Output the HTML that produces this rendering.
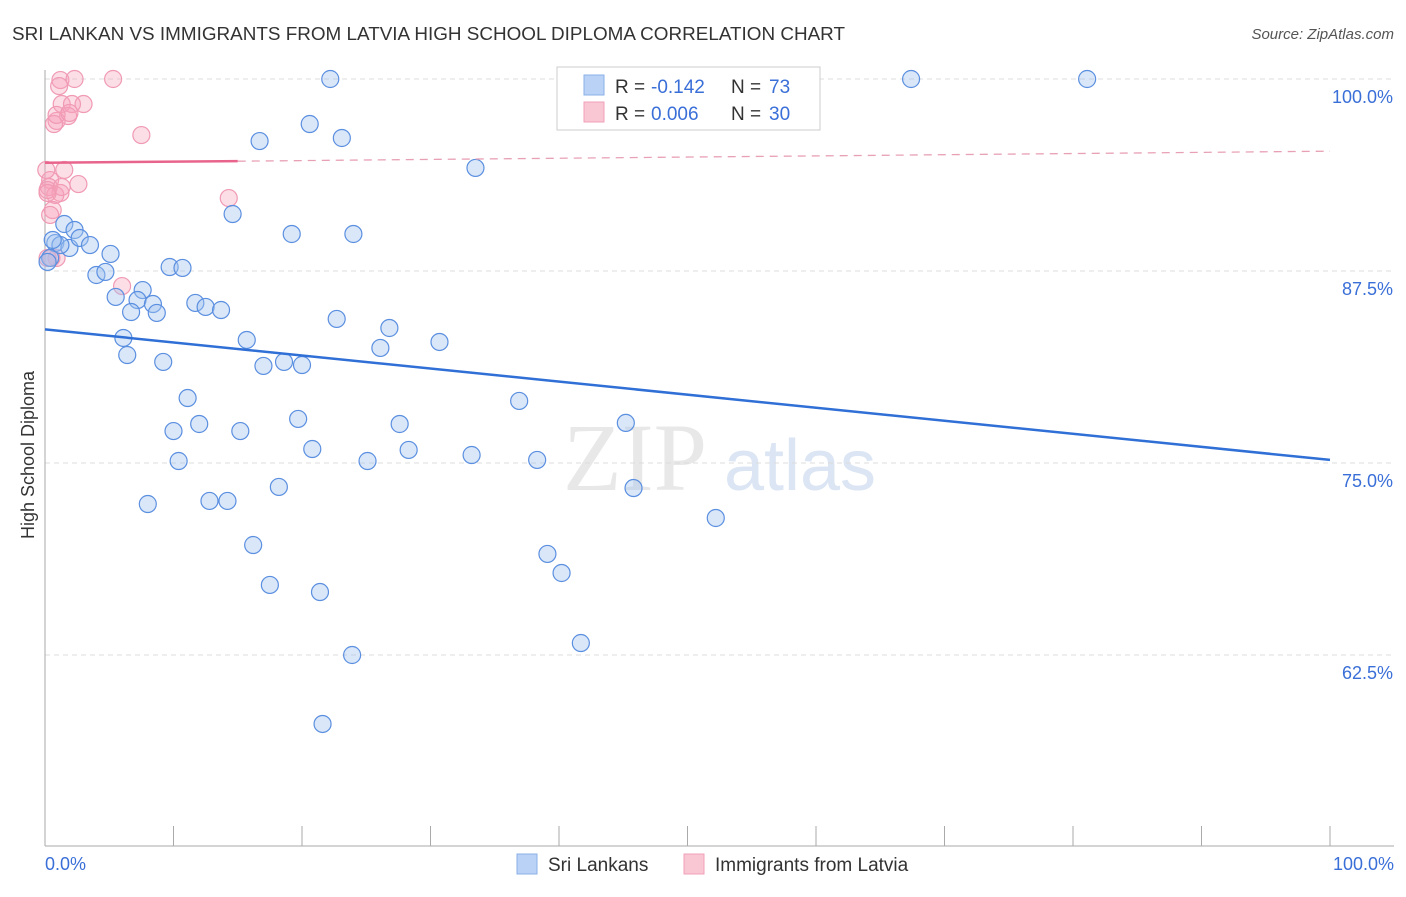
<!DOCTYPE html>
<html><head><meta charset="utf-8"><style>
body{margin:0;background:#fff;font-family:"Liberation Sans",sans-serif;}
</style></head><body>
<svg width="1406" height="892" xmlns="http://www.w3.org/2000/svg" font-family="Liberation Sans, sans-serif">
<text x="12" y="40" font-size="18.5" fill="#333" textLength="833" lengthAdjust="spacingAndGlyphs">SRI LANKAN VS IMMIGRANTS FROM LATVIA HIGH SCHOOL DIPLOMA CORRELATION CHART</text>
<text x="1394" y="39" font-size="15" fill="#555" text-anchor="end" font-style="italic">Source: ZipAtlas.com</text>
<g>
<text x="635" y="490" font-size="96" fill="#e8e8e8" text-anchor="middle" font-family="Liberation Serif, serif">ZIP</text>
<text x="800" y="490" font-size="72" fill="#dbe5f4" text-anchor="middle">atlas</text>
</g>
<g id="grid"></g>
<line x1="45" y1="70" x2="45" y2="846" stroke="#aaa"/>
<line x1="45" y1="846" x2="1394" y2="846" stroke="#aaa"/>
<g id="xticks"></g>
<text x="45" y="870" font-size="18" fill="#3a6fd8">0.0%</text>
<text x="1394" y="870" font-size="18" fill="#3a6fd8" text-anchor="end">100.0%</text>
<text transform="translate(34,455) rotate(-90)" font-size="18" fill="#333" text-anchor="middle">High School Diploma</text>
<g id="marks"></g>
<g>
<rect x="557" y="67" width="263" height="63" fill="#fff" stroke="#ccc"/>
<rect x="584" y="75" width="20" height="20" fill="#b9d2f5" stroke="#8ab0e8"/>
<rect x="584" y="102" width="20" height="20" fill="#f9c6d4" stroke="#f0a0b8"/>
<text x="615" y="93" font-size="19" fill="#333">R =</text>
<text x="651" y="93" font-size="19" fill="#3a6fd8">-0.142</text>
<text x="731" y="93" font-size="19" fill="#333">N =</text>
<text x="769" y="93" font-size="19" fill="#3a6fd8">73</text>
<text x="615" y="120" font-size="19" fill="#333">R =</text>
<text x="651" y="120" font-size="19" fill="#3a6fd8">0.006</text>
<text x="731" y="120" font-size="19" fill="#333">N =</text>
<text x="769" y="120" font-size="19" fill="#3a6fd8">30</text>
</g>
<g>
<rect x="517" y="854" width="20" height="20" fill="#b9d2f5" stroke="#8ab0e8"/>
<text x="548" y="871" font-size="19" fill="#333">Sri Lankans</text>
<rect x="684" y="854" width="20" height="20" fill="#f9c6d4" stroke="#f0a0b8"/>
<text x="715" y="871" font-size="19" fill="#333">Immigrants from Latvia</text>
</g>
</svg>
<script>
const yTicks=[100,87.5,75,62.5];
const yTickLabels=["100.0%","87.5%","75.0%","62.5%"];
const blueX=[22.2,67.4,81.1,16.7,20.6,23.1,33.5,14.6,19.2,24.0,1.5,2.3,0.8,1.9,2.7,3.5,5.1,0.4,4.0,4.7,9.7,10.7,7.6,5.5,7.2,8.4,6.7,8.7,11.7,12.5,13.7,22.7,26.8,15.7,6.1,26.1,30.7,6.4,9.2,17.0,18.6,20.0,11.1,36.9,19.7,12.0,10.0,15.2,27.6,45.2,20.8,28.3,33.2,10.4,25.1,38.3,18.2,45.8,8.0,12.8,14.2,52.2,16.2,39.1,40.2,17.5,21.4,41.7,23.9,21.6,0.2,1.2,0.6];
const blueY=[100,100,100,95.96,97.07,96.16,94.21,91.21,89.91,89.91,90.56,90.17,89.32,89.0,89.65,89.19,88.61,88.35,87.24,87.44,87.76,87.70,86.26,85.81,85.61,85.35,84.83,84.77,85.42,85.16,84.96,84.38,83.79,83.01,83.14,82.49,82.88,82.03,81.58,81.32,81.58,81.38,79.23,79.04,77.87,77.54,77.08,77.08,77.54,77.61,75.91,75.85,75.52,75.13,75.13,75.20,73.44,73.37,72.33,72.53,72.53,71.42,69.66,69.08,67.84,67.06,66.60,63.28,62.50,58.01,88.09,89.19,89.52];
const pinkX=[1.2,2.3,5.3,1.1,1.3,3.0,2.1,1.8,0.9,0.7,7.5,1.5,0.4,2.6,0.3,1.2,0.8,0.2,14.3,0.6,0.4,6.0,0.9,0.5,0.2,0.9,1.9,0.2,0.1,1.3];
const pinkY=[99.93,100,100,99.54,98.37,98.37,98.37,97.59,97.27,97.07,96.35,94.08,93.42,93.16,92.97,92.58,92.45,92.77,92.25,91.47,91.15,86.52,88.35,88.35,88.35,97.66,97.79,92.58,94.08,92.97];
const blueTrend=[83.7,75.2];
const pinkTrend=[94.55,94.65,95.3];
const NS="http://www.w3.org/2000/svg";
const sx=v=>45+v*12.85, sy=v=>79+(100-v)*15.36;
function mk(t,a,p){const e=document.createElementNS(NS,t);for(const k in a)e.setAttribute(k,a[k]);p.appendChild(e);return e;}
const grid=document.getElementById('grid');
yTicks.forEach((t,i)=>{
 const l=mk('line',{x1:45,x2:1394,y1:sy(t),y2:sy(t),stroke:'#ddd','stroke-dasharray':'5,4'},grid);
 
 
 const tx=mk('text',{x:1393,y:sy(t)+24,'font-size':18,fill:'#3a6fd8','text-anchor':'end'},grid);
 tx.textContent=yTickLabels[i];
 
 
});
const xt=document.getElementById('xticks');
for(let i=1;i<=10;i++){const l=mk('line',{x1:45+i*128.5,x2:45+i*128.5,y1:826,y2:846,stroke:'#aaa'},xt);
 
 }
const g=document.getElementById('marks');
pinkX.forEach((x,i)=>{const c=mk('circle',{cx:sx(x),cy:sy(pinkY[i]),r:8.5,fill:'rgba(246,160,185,0.35)',stroke:'#f09ab4','stroke-width':1.2},g);
 
 });
blueX.forEach((x,i)=>{const c=mk('circle',{cx:sx(x),cy:sy(blueY[i]),r:8.5,fill:'rgba(160,195,240,0.4)',stroke:'#5b8fe0','stroke-width':1.2},g);
 
 });
const bl=mk('line',{x1:sx(0),y1:sy(blueTrend[0]),x2:sx(100),y2:sy(blueTrend[1]),stroke:'#2f6fd6','stroke-width':2.5},g);


const pl=mk('line',{x1:sx(0),y1:sy(pinkTrend[0]),x2:sx(15),y2:sy(pinkTrend[1]),stroke:'#e8648c','stroke-width':2.5},g);


const pd=mk('line',{x1:sx(15),y1:sy(pinkTrend[1]),x2:sx(100),y2:sy(pinkTrend[2]),stroke:'#e8a0b5','stroke-width':1.3,'stroke-dasharray':'8,6'},g);


</script>
</body></html>
